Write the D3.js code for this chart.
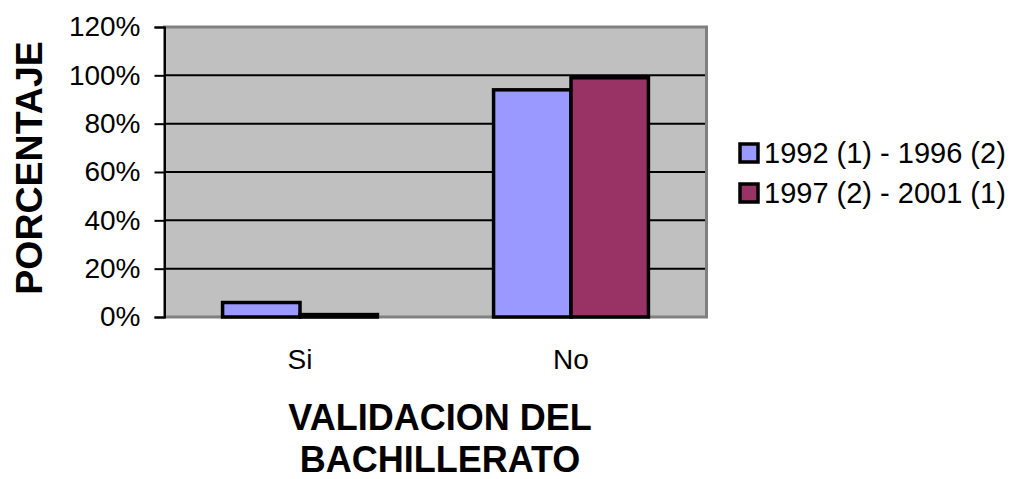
<!DOCTYPE html>
<html>
<head>
<meta charset="utf-8">
<script src="https://cdn.jsdelivr.net/npm/d3@7"></script>
<style>
  body { margin: 0; background: #fff; }
  text { font-family: Arial, "Liberation Sans", sans-serif; fill: #000; }
</style>
</head>
<body>
<svg id="chart" width="1010" height="479"></svg>
<script>
var categories = ['Si', 'No']
var seriesNames = ['1992 (1) - 1996 (2)', '1997 (2) - 2001 (1)']
var seriesColors = ['#9999FF', '#993366']
var valuesA = [0.06, 0.94]
var valuesB = [0.01, 0.99]
var yTicks = [0, 0.2, 0.4, 0.6, 0.8, 1.0, 1.2]
var yTitle = 'PORCENTAJE'
var xTitle = ['VALIDACION DEL', 'BACHILLERATO']

var svg = d3.select('#chart')

var plot = {x0: 164.5, x1: 706.5, y0: 27, y1: 317}

var x = d3.scaleBand()
	.domain(categories)
	.range([plot.x0, plot.x1])

// excel style gap width 150%
var groupW = x.bandwidth() * 2 / 3.5
var xs = d3.scaleBand()
	.domain(d3.range(seriesNames.length))
	.range([0, groupW])

var y = d3.scaleLinear()
	.domain([0, 1.2])
	.range([plot.y1, plot.y0])

// plot background
svg.append('rect')
	.attr('x', plot.x0)
	.attr('y', plot.y0)
	.attr('width', plot.x1 - plot.x0)
	.attr('height', plot.y1 - plot.y0)
	.attr('fill', '#C0C0C0')
	.attr('stroke', '#808080')
	.attr('stroke-width', 3)

// gridlines
svg.append('g')
	.selectAll('line')
	.data(yTicks.filter(function(t) {return t > 0 && t < 1.2}))
	.enter()
	.append('line')
	.attr('x1', plot.x0)
	.attr('x2', plot.x1 - 1.5)
	.attr('y1', function(d) {return y(d)})
	.attr('y2', function(d) {return y(d)})
	.attr('stroke', '#000')
	.attr('stroke-width', 2)

// bars
var rows = categories.map(function(c, i) {return [valuesA[i], valuesB[i]]})
svg.append('g')
	.selectAll('.cat')
	.data(categories)
	.enter()
	.append('g')
	.attr('class', 'cat')
	.attr('transform', function(c) {return 'translate(' + (x(c) + (x.bandwidth() - groupW) / 2) + ',0)'})
	.each(function(c, i) {
		d3.select(this)
			.selectAll('rect')
			.data(rows[i])
			.enter()
			.append('rect')
			.attr('x', function(v, j) {return xs(j)})
			.attr('y', function(v) {return y(v)})
			.attr('width', xs.bandwidth())
			.attr('height', function(v) {return y(0) - y(v)})
			.attr('fill', function(v, j) {return seriesColors[j]})
			.attr('stroke', '#000')
			.attr('stroke-width', 3.5)
	})

// y axis
var yAxis = d3.axisLeft(y)
	.tickValues(yTicks)
	.tickSize(10)
	.tickPadding(14)
	.tickFormat(d3.format('.0%'))

var ya = svg.append('g')
	.attr('transform', 'translate(' + plot.x0 + ',0)')
	.call(yAxis)
ya.select('.domain').attr('stroke', '#000').attr('stroke-width', 2)
ya.selectAll('.tick line').attr('stroke', '#000').attr('stroke-width', 2)
ya.selectAll('.tick text')
	.attr('font-size', 28)
	.attr('font-family', 'Arial, "Liberation Sans", sans-serif')
	.attr('fill', '#000')

// x labels
svg.append('g')
	.selectAll('text')
	.data(categories)
	.enter()
	.append('text')
	.attr('x', function(c) {return x(c) + x.bandwidth() / 2})
	.attr('y', 369)
	.attr('text-anchor', 'middle')
	.attr('font-size', 28)
	.text(function(c) {return c})

// axis titles
svg.append('text')
	.attr('transform', 'translate(42,168) rotate(-90)')
	.attr('text-anchor', 'middle')
	.attr('font-size', 37.5)
	.attr('font-weight', 'bold')
	.text(yTitle)

svg.append('g')
	.selectAll('text')
	.data(xTitle)
	.enter()
	.append('text')
	.attr('x', 440)
	.attr('y', function(d, i) {return 430 + i * 42})
	.attr('text-anchor', 'middle')
	.attr('font-size', 36)
	.attr('font-weight', 'bold')
	.text(function(d) {return d})

// legend
var lg = svg.append('g')
	.selectAll('g')
	.data(seriesNames)
	.enter()
	.append('g')
	.attr('transform', function(d, i) {return 'translate(740,' + (144 + i * 40) + ')'})
lg.append('rect')
	.attr('width', 18)
	.attr('height', 18)
	.attr('fill', function(d, i) {return seriesColors[i]})
	.attr('stroke', '#000')
	.attr('stroke-width', 3.5)
lg.append('text')
	.attr('x', 24)
	.attr('y', 19)
	.attr('font-size', 29)
	.text(function(d) {return d})
</script>
</body>
</html>
